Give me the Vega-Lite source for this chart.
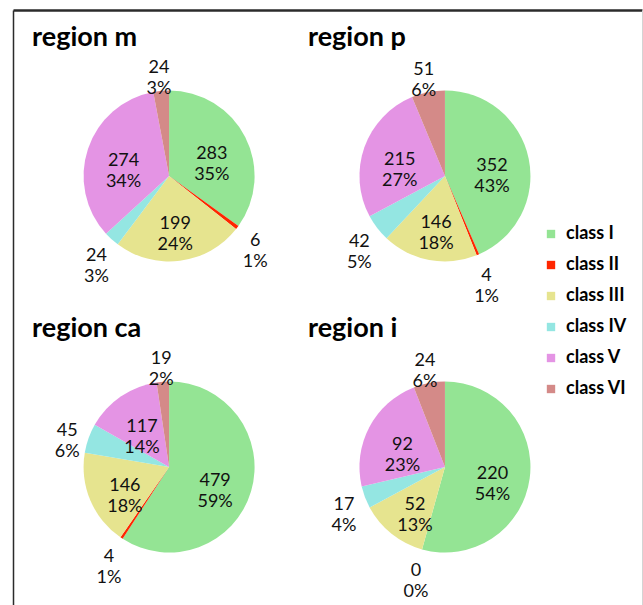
{
  "$schema": "https://vega.github.io/schema/vega-lite/v6.json",
  "width": 643,
  "height": 605,
  "autosize": {"type": "fit", "contains": "padding"},
  "padding": {"left": 13, "top": 10, "right": 1, "bottom": 0},
  "background": "white",
  "config": {"font": "Lato", "view": {"stroke": null}},
  "data": {
    "values": [
      {"region": "region m", "class": "class I", "count": 283, "pct": 35},
      {"region": "region m", "class": "class II", "count": 6, "pct": 1},
      {"region": "region m", "class": "class III", "count": 199, "pct": 24},
      {"region": "region m", "class": "class IV", "count": 24, "pct": 3},
      {"region": "region m", "class": "class V", "count": 274, "pct": 34},
      {"region": "region m", "class": "class VI", "count": 24, "pct": 3},
      {"region": "region p", "class": "class I", "count": 352, "pct": 43},
      {"region": "region p", "class": "class II", "count": 4, "pct": 1},
      {"region": "region p", "class": "class III", "count": 146, "pct": 18},
      {"region": "region p", "class": "class IV", "count": 42, "pct": 5},
      {"region": "region p", "class": "class V", "count": 215, "pct": 27},
      {"region": "region p", "class": "class VI", "count": 51, "pct": 6},
      {"region": "region ca", "class": "class I", "count": 479, "pct": 59},
      {"region": "region ca", "class": "class II", "count": 4, "pct": 1},
      {"region": "region ca", "class": "class III", "count": 146, "pct": 18},
      {"region": "region ca", "class": "class IV", "count": 45, "pct": 6},
      {"region": "region ca", "class": "class V", "count": 117, "pct": 14},
      {"region": "region ca", "class": "class VI", "count": 19, "pct": 2},
      {"region": "region i", "class": "class I", "count": 220, "pct": 54},
      {"region": "region i", "class": "class II", "count": 0, "pct": 0},
      {"region": "region i", "class": "class III", "count": 52, "pct": 13},
      {"region": "region i", "class": "class IV", "count": 17, "pct": 4},
      {"region": "region i", "class": "class V", "count": 92, "pct": 23},
      {"region": "region i", "class": "class VI", "count": 24, "pct": 6}
    ]
  },
  "transform": [
    {"calculate": "datum.region === 'region m' || datum.region === 'region ca' ? 'left' : 'right'", "as": "col"},
    {"calculate": "datum.region === 'region m' || datum.region === 'region p' ? 'top' : 'bottom'", "as": "row"},
    {"stack": "count", "groupby": ["region"], "sort": [{"field": "class", "order": "ascending"}], "offset": "normalize", "as": ["t0", "t1"]},
    {"calculate": "(datum.t0 + datum.t1) / 2", "as": "mid"},
    {"calculate": "datum.count + '\\n' + datum.pct + '%'", "as": "label"}
  ],
  "layer": [
    {
      "mark": {"type": "arc", "outerRadius": 85.5},
      "encoding": {
        "x": {"field": "col", "type": "nominal", "scale": {"type": "point", "domain": ["left", "right"], "padding": 0.64, "align": 0.442},
              "axis": {"orient": "top", "labels": false, "ticks": false, "title": null, "grid": false, "domain": true, "domainColor": "#2b2b2b", "domainWidth": 2.5}},
        "y": {"field": "row", "type": "nominal", "scale": {"type": "point", "domain": ["top", "bottom"], "padding": 0.522, "align": 0.546},
              "axis": {"orient": "left", "labels": false, "ticks": false, "title": null, "grid": false, "domainColor": "#2b2b2b", "domainWidth": 1.5}},
        "theta": {"field": "t0", "type": "quantitative", "stack": null, "scale": {"domain": [0, 1]}},
        "theta2": {"field": "t1"},
        "color": {
          "field": "class", "type": "nominal",
          "scale": {
            "domain": ["class I", "class II", "class III", "class IV", "class V", "class VI"],
            "range": ["#94e494", "#ff2600", "#e6e48f", "#94e6e2", "#e494e4", "#d48a88"]
          },
          "legend": {
            "title": null, "orient": "none", "legendX": 529, "legendY": 215,
            "symbolType": "square", "symbolSize": 70, "symbolStrokeWidth": 0,
            "labelFont": "Lato", "labelFontSize": 18, "labelFontWeight": "bold", "labelColor": "#000",
            "labelOffset": 6, "rowPadding": 13, "padding": 0
          }
        }
      }
    },
    {
      "transform": [{"filter": "datum.pct >= 10"}],
      "mark": {"type": "text", "radius": 48, "fontSize": 18, "lineBreak": "\n", "lineHeight": 21, "baseline": "middle", "align": "center", "color": "#111"},
      "encoding": {
        "x": {"field": "col", "type": "nominal", "axis": null},
        "y": {"field": "row", "type": "nominal", "axis": null},
        "theta": {"field": "mid", "type": "quantitative", "stack": null},
        "text": {"field": "label"}
      }
    },
    {
      "transform": [{"filter": "datum.pct < 10"}],
      "mark": {"type": "text", "radius": 108, "fontSize": 18, "lineBreak": "\n", "lineHeight": 21, "baseline": "middle", "align": "center", "color": "#111"},
      "encoding": {
        "x": {"field": "col", "type": "nominal", "axis": null},
        "y": {"field": "row", "type": "nominal", "axis": null},
        "theta": {"field": "mid", "type": "quantitative", "stack": null},
        "text": {"field": "label"}
      }
    },
    {
      "transform": [{"filter": "datum.class === 'class I'"}],
      "mark": {"type": "text", "dx": -137, "dy": -130, "align": "left", "baseline": "alphabetic", "fontSize": 27, "fontWeight": "bold", "color": "#000"},
      "encoding": {
        "x": {"field": "col", "type": "nominal", "axis": null},
        "y": {"field": "row", "type": "nominal",
              "axis": {"orient": "right", "labels": false, "ticks": false, "title": null, "grid": false, "domainColor": "#d4d4d4", "domainWidth": 1}},
        "text": {"field": "region"}
      }
    }
  ],
  "resolve": {"axis": {"x": "independent", "y": "independent"}}
}
